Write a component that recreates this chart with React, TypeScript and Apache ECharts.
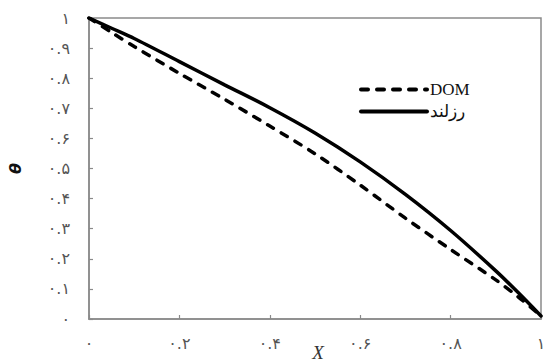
import React, { useEffect, useRef } from "react";
import * as echarts from "echarts";

const xValues = [0, 0.05, 0.1, 0.2, 0.3, 0.4, 0.5, 0.6, 0.7, 0.8, 0.9, 0.95, 1];
const rosslandValues = [1, 0.966, 0.932, 0.855, 0.778, 0.702, 0.618, 0.522, 0.414, 0.294, 0.16, 0.087, 0.01];
const domValues = [1, 0.952, 0.905, 0.816, 0.73, 0.641, 0.549, 0.445, 0.335, 0.231, 0.13, 0.073, 0.01];

const yTickLabels = ["۰", "۰.۱", "۰.۲", "۰.۳", "۰.۴", "۰.۵", "۰.۶", "۰.۷", "۰.۸", "۰.۹", "۱"];
const xTickLabels = ["۰", "۰.۲", "۰.۴", "۰.۶", "۰.۸", "۱"];

const seriesNames = ["DOM", "رزلند"];

export default function App() {
  const ref = useRef<HTMLDivElement>(null);
  useEffect(() => {
    if (!ref.current) return;
    const chart = echarts.init(ref.current, undefined, { renderer: "svg" });
    const axisColor = "#8a8a8a";
    const labelStyle = {
      color: "#555",
      fontSize: 16,
      fontFamily: "DejaVu Sans",
    };
    chart.setOption({
      animation: false,
      backgroundColor: "#fff",
      grid: {
        left: 89,
        right: 2,
        top: 18,
        bottom: 44,
        outerBoundsMode: "none",
        containLabel: false,
        show: true,
        borderColor: axisColor,
        borderWidth: 1.5,
      },
      legend: {
        orient: "vertical",
        left: 354,
        top: 76,
        itemWidth: 66,
        itemHeight: 14,
        itemGap: 5,
        data: seriesNames,
        itemStyle: { opacity: 0 },
        lineStyle: { width: 4 },
        textStyle: {
          fontFamily: "Liberation Serif",
          fontSize: 17,
          color: "#111",
          padding: [0, 0, 0, -2],
        },
      },
      xAxis: {
        type: "value",
        min: 0,
        max: 1,
        interval: 0.2,
        name: "X",
        nameLocation: "middle",
        nameGap: 24,
        nameMoveOverlap: false,
        nameTextStyle: {
          fontFamily: "Liberation Serif",
          fontStyle: "italic",
          fontSize: 19,
          color: "#333",
          padding: [0, 0, 0, 6],
        },
        splitLine: { show: false },
        axisLine: { show: true, lineStyle: { color: axisColor, width: 1.5 } },
        axisTick: { show: true, inside: true, length: 4, lineStyle: { color: axisColor, width: 1.2 } },
        axisLabel: {
          ...labelStyle,
          margin: 16,
          formatter: (v: number) => xTickLabels[Math.round(v * 5)] ?? "",
        },
      },
      yAxis: {
        type: "value",
        min: 0,
        max: 1,
        interval: 0.1,
        name: "θ",
        nameLocation: "middle",
        nameGap: 66,
        nameMoveOverlap: false,
        nameRotate: 90,
        nameTextStyle: {
          fontFamily: "DejaVu Sans",
          fontStyle: "italic",
          fontWeight: "bold",
          fontSize: 16,
          color: "#111",
        },
        splitLine: { show: false },
        axisLine: { show: true, lineStyle: { color: axisColor, width: 1.5 } },
        axisTick: { show: true, inside: true, length: 4, lineStyle: { color: axisColor, width: 1.2 } },
        axisLabel: {
          ...labelStyle,
          margin: 19,
          formatter: (v: number) => yTickLabels[Math.round(v * 10)] ?? "",
        },
      },
      series: [
        {
          name: seriesNames[0],
          type: "line",
          smooth: 0.3,
          symbol: "none",
          data: xValues.map((x, i) => [x, domValues[i]]),
          lineStyle: { color: "#000", width: 3.5, type: [7, 9], cap: "round" },
          itemStyle: { color: "#000" },
        },
        {
          name: seriesNames[1],
          type: "line",
          smooth: 0.3,
          symbol: "none",
          data: xValues.map((x, i) => [x, rosslandValues[i]]),
          lineStyle: { color: "#000", width: 3.5, type: "solid", cap: "round" },
          itemStyle: { color: "#000" },
        },
      ],
    });
    return () => chart.dispose();
  }, []);
  return (
    <div
      ref={ref}
      style={{ position: "fixed", left: 0, top: 0, width: 543, height: 363 }}
    />
  );
}
